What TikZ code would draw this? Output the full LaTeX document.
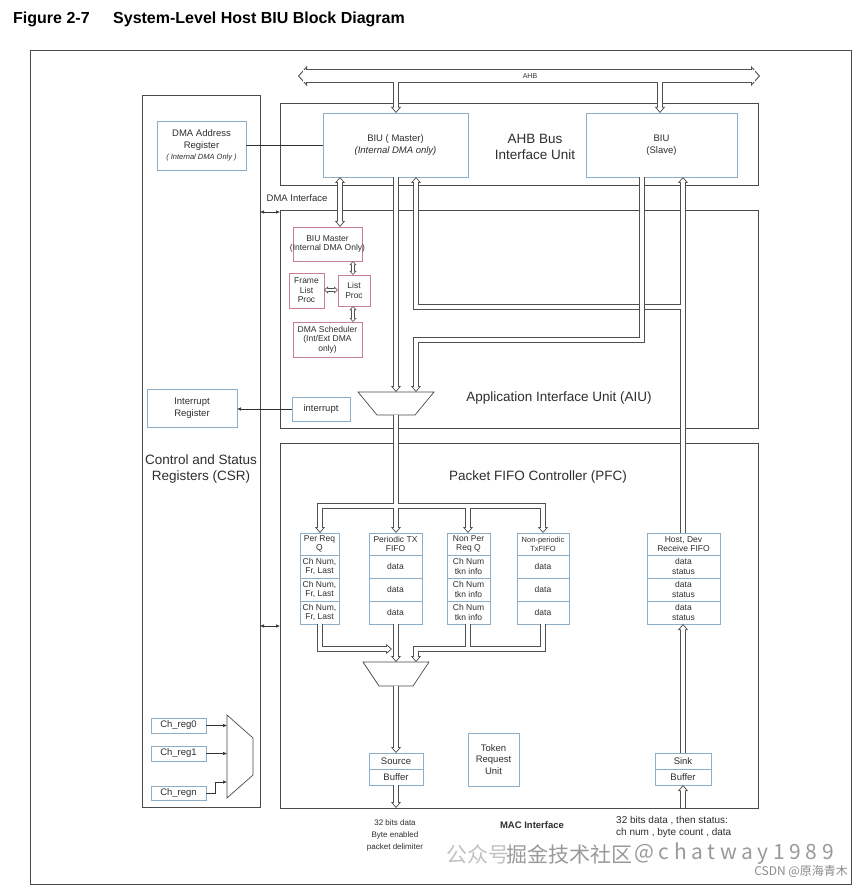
\documentclass[tikz,border=0pt]{standalone}
\usepackage{fontspec}
\setmainfont{Liberation Sans}
\newfontfamily\cjkfont{Noto Sans CJK SC}
\newfontfamily\cjkwide{Noto Sans CJK SC}[LetterSpace=22]
\usetikzlibrary{arrows.meta}
\definecolor{frm}{HTML}{4A4A4A}
\definecolor{blu}{HTML}{8DAEC6}
\definecolor{pnk}{HTML}{C8808E}
\definecolor{txt}{HTML}{2E2E2E}
\definecolor{bcol}{HTML}{505050}
\newcommand\fsT{\fontsize{16}{19}\selectfont\bfseries}
\newcommand\fsL{\fontsize{13.5}{16.5}\selectfont}
\newcommand\fsA{\fontsize{9.5}{11.5}\selectfont}
\newcommand\fsB{\fontsize{8.5}{9.6}\selectfont}
\newcommand\fsC{\fontsize{7.5}{9}\selectfont}
\newcommand\fsD{\fontsize{8}{12}\selectfont}
\newcommand\fsE{\fontsize{10}{12}\selectfont}
\newcommand\boxat[8]{%
 \pgfmathsetmacro\BoxW{#5-#3}%
 \pgfmathsetmacro\BoxH{#6-#4}%
 \pgfmathsetmacro\BoxX{(#3+#5)/2}%
 \pgfmathsetmacro\BoxY{(#4+#6)/2}%
 \node[#1, rectangle, inner sep=0pt, outer sep=0pt, minimum width=\BoxW pt, minimum height=\BoxH pt] (#2) at (\BoxX,\BoxY) {};%
 \node[align=center, inner sep=0pt, font=#7] at (#2.center) {#8};%
}
\tikzset{
 frmbox/.style={draw=frm, line width=0.9pt},
 bbox/.style={draw=blu, line width=0.9pt, fill=white},
 pbox/.style={draw=pnk, line width=0.9pt, fill=white},
 mux/.style={draw=frm, line width=0.7pt, fill=white},
 thin/.style={draw=black!80, line width=0.6pt, -{Latex[length=4pt,width=3.6pt]}},
 thinB/.style={draw=black!80, line width=0.6pt, {Latex[length=4pt,width=3.6pt]}-{Latex[length=4pt,width=3.6pt]}},
 passone/.style={
  bus/.style={draw=bcol,line width=6.2pt,line join=miter},
  wbus/.style={draw=bcol,line width=14pt,line join=miter},
  sbus/.style={draw=bcol,line width=4pt,line join=miter},
  tE/.style={-{Triangle[width=10pt,length=6pt,line width=0.75pt,fill=white]}},
  tB/.style={{Triangle[width=10pt,length=6pt,line width=0.75pt,fill=white]}-{Triangle[width=10pt,length=6pt,line width=0.75pt,fill=white]}},
  wtB/.style={{Triangle[width=20pt,length=9pt,line width=0.9pt,fill=white]}-{Triangle[width=20pt,length=9pt,line width=0.9pt,fill=white]}},
  stB/.style={{Triangle[width=7pt,length=4pt,line width=0.6pt,fill=white]}-{Triangle[width=7pt,length=4pt,line width=0.6pt,fill=white]}}
 },
 passtwo/.style={
  bus/.style={draw=white,line width=4.6pt,line join=miter},
  wbus/.style={draw=white,line width=12pt,line join=miter},
  sbus/.style={draw=white,line width=2.8pt,line join=miter},
  tE/.style={shorten >=3.5pt},
  tB/.style={shorten >=3.5pt,shorten <=3.5pt},
  wtB/.style={shorten >=5pt,shorten <=5pt},
  stB/.style={shorten >=2.4pt,shorten <=2.4pt}
 },
}
\newcommand\ahbpaths{%
 \draw[wbus,wtB] (ahbL) -- (ahbR);
 \draw[bus,tE] (xM |- ahbL) -- (xM |- biuM.north);
 \draw[bus,tE] (xAs |- ahbL) -- (xAs |- biuS.north);
}
\newcommand\mainpaths{%
 \draw[bus,tB] (xD |- biuM.south) -- (xD |- dmaM.north);
 \draw[bus,tE] (xM |- biuM.south) -- (amuxN);
 \draw[bus,tE] (xR |- yW) -- (xW |- yW) -- (xW |- biuM.south);
 \draw[bus,tE] (xR |- rxf.north) -- (xR |- biuS.south);
}
\newcommand\slavepaths{%
 \draw[bus,tE] (xSd |- biuS.south) -- (xSd |- ySd) -- (xW |- ySd) -- (xW |- amuxN);
}
\newcommand\distpaths{%
 \draw[bus,tE] (amuxS) -- (xM |- pfifo.north);
 \draw[bus,tE] (xM |- yDist) -- (xPR |- yDist) -- (xPR |- preq.north);
 \draw[bus,tE] (xM |- yDist) -- (xNT |- yDist) -- (xNT |- nptx.north);
 \draw[bus,tE] (xNP |- yDist) -- (xNP |- npreq.north);
}
\newcommand\mergepaths{%
 \draw[bus,tE] (xM |- pfifo3.south) -- (pmuxN);
 \draw[bus,tE] (xPR |- preq3.south) -- (xPR |- yPR) -- (prEnd);
 \draw[bus,tE] (xNT |- nptx3.south) -- (xNT |- yNP) -- (xW |- yNP) -- (xW |- pmuxN);
 \draw[bus] (xNP |- npreq3.south) -- (xNP |- yNP);
 \draw[bus,tE] (pmuxS) -- (xM |- srcb.north);
 \draw[bus,tE] (xM |- srcb2.south) -- (xM |- pfc.south);
 \draw[bus,tE] (xR |- pfc.south) -- (xR |- sink2.south);
 \draw[bus,tE] (xR |- sink.north) -- (xR |- rxf3.south);
}
\newcommand\dmapaths{%
 \draw[sbus,stB] (xL |- dmaM.south) -- (xL |- lproc.north);
 \draw[sbus,stB] (flp.east |- yF) -- (lproc.west |- yF);
 \draw[sbus,stB] (xL |- lproc.south) -- (xL |- sched.north);
}
\begin{document}
\begin{tikzpicture}[x=1pt,y=-1pt, every node/.style={text=txt}]
\fill[white] (0,0) rectangle (865,890);
\useasboundingbox (0,0) rectangle (865,890);
% title
\node[anchor=west, inner sep=0pt, font=\fsT, text=black] (fignum) at (13,19) {Figure 2-7};
\node[anchor=west, inner sep=0pt, font=\fsT, text=black] (figttl) at (113,19) {System-Level Host BIU Block Diagram};
% coordinates
\coordinate (ahbL) at (298,76); \coordinate (ahbR) at (760,76);
\coordinate (xD) at (340,0); \coordinate (xM) at (396,0); \coordinate (xW) at (416,0);
\coordinate (xSd) at (642,0); \coordinate (xR) at (683,0); \coordinate (xAs) at (660,0);
\coordinate (xPR) at (320,0); \coordinate (xNP) at (468,0); \coordinate (xNT) at (543,0);
\coordinate (xL) at (353,0);
\coordinate (yW) at (0,307); \coordinate (ySd) at (0,340); \coordinate (yDist) at (0,506);
\coordinate (yPR) at (0,649); \coordinate (yNP) at (0,649); \coordinate (yF) at (0,290);
\coordinate (prEnd) at (392,649);
\coordinate (amuxN) at (396,392); \coordinate (amuxS) at (396,415);
\coordinate (pmuxN) at (396,662); \coordinate (pmuxS) at (396,686);
\coordinate (dmaIfY) at (0,212); \coordinate (pfcIfY) at (0,626);
\coordinate (cmuxL) at (227,0); \coordinate (cnY) at (0,782);
% frames
\boxat{frmbox}{outer}{30}{50}{851}{884}{\fsL}{}
\boxat{frmbox}{csr}{142}{95}{260}{807}{\fsL}{}
\boxat{frmbox}{ahbu}{280}{103}{758}{185}{\fsL}{}
\boxat{frmbox}{aiu}{280}{210}{758}{428}{\fsL}{}
\boxat{frmbox}{pfc}{280}{443}{758}{808}{\fsL}{}
\node[font=\fsL, align=center] (ahbuT) at (535,147) {AHB Bus\\Interface Unit};
\node[font=\fsL, align=center] (aiuT) at (559,398) {Application Interface Unit (AIU)};
\node[font=\fsL, align=center] (pfcT) at (538,477) {Packet FIFO Controller (PFC)};
\node[font=\fsL, align=center] (csrT) at (201,469) {Control and Status\\Registers (CSR)};
% blue boxes
\boxat{bbox}{biuM}{323}{113}{468}{177}{\fsA}{BIU ( Master)\\{\itshape (Internal DMA only)}}
\boxat{bbox}{biuS}{586}{113}{737}{177}{\fsA}{BIU\\(Slave)}
\boxat{bbox}{dmaaddr}{157}{121}{246}{170}{\fsA}{DMA Address\\Register\\{\fsC\itshape ( Internal DMA Only )}}
\boxat{bbox}{intreg}{147}{389}{237}{427}{\fsA}{Interrupt\\Register}
\boxat{bbox}{intr}{292}{397}{350}{421}{\fsA}{interrupt}
\boxat{bbox}{chr0}{151}{718}{206}{733}{\fsA}{Ch\_reg0}
\boxat{bbox}{chr1}{151}{746}{206}{761}{\fsA}{Ch\_reg1}
\boxat{bbox}{chrn}{151}{786}{206}{800}{\fsA}{Ch\_regn}
% FIFOs
\boxat{bbox}{preq}{300}{533}{339}{555}{\fsB}{Per Req\\Q}
\boxat{bbox}{preq1}{300}{555}{339}{578}{\fsB}{Ch Num,\\Fr, Last}
\boxat{bbox}{preq2}{300}{578}{339}{601}{\fsB}{Ch Num,\\Fr, Last}
\boxat{bbox}{preq3}{300}{601}{339}{624}{\fsB}{Ch Num,\\Fr, Last}
\boxat{bbox}{pfifo}{369}{533}{422}{555}{\fsB}{Periodic TX\\FIFO}
\boxat{bbox}{pfifo1}{369}{555}{422}{578}{\fsB}{data}
\boxat{bbox}{pfifo2}{369}{578}{422}{601}{\fsB}{data}
\boxat{bbox}{pfifo3}{369}{601}{422}{624}{\fsB}{data}
\boxat{bbox}{npreq}{447}{533}{490}{555}{\fsB}{Non Per\\Req Q}
\boxat{bbox}{npreq1}{447}{555}{490}{578}{\fsB}{Ch Num\\tkn info}
\boxat{bbox}{npreq2}{447}{578}{490}{601}{\fsB}{Ch Num\\tkn info}
\boxat{bbox}{npreq3}{447}{601}{490}{624}{\fsB}{Ch Num\\tkn info}
\boxat{bbox}{nptx}{517}{533}{569}{555}{\fsC}{Non-periodic\\TxFIFO}
\boxat{bbox}{nptx1}{517}{555}{569}{578}{\fsB}{data}
\boxat{bbox}{nptx2}{517}{578}{569}{601}{\fsB}{data}
\boxat{bbox}{nptx3}{517}{601}{569}{624}{\fsB}{data}
\boxat{bbox}{rxf}{647}{533}{720}{555}{\fsB}{Host, Dev\\Receive FIFO}
\boxat{bbox}{rxf1}{647}{555}{720}{578}{\fsB}{data\\status}
\boxat{bbox}{rxf2}{647}{578}{720}{601}{\fsB}{data\\status}
\boxat{bbox}{rxf3}{647}{601}{720}{624}{\fsB}{data\\status}
\boxat{bbox}{srcb}{369}{753}{423}{769}{\fsA}{Source}
\boxat{bbox}{srcb2}{369}{769}{423}{785}{\fsA}{Buffer}
\boxat{bbox}{token}{468}{733}{519}{786}{\fsA}{Token\\Request\\Unit}
\boxat{bbox}{sink}{655}{753}{711}{769}{\fsA}{Sink}
\boxat{bbox}{sink2}{655}{769}{711}{785}{\fsA}{Buffer}
% pink DMA boxes
\boxat{pbox}{dmaM}{293}{227}{362}{261}{\fsB}{BIU Master\\(Internal DMA Only)}
\boxat{pbox}{flp}{289}{273}{324}{308}{\fsB}{Frame\\List\\Proc}
\boxat{pbox}{lproc}{338}{275}{370}{306}{\fsB}{List\\Proc}
\boxat{pbox}{sched}{293}{322}{362}{357}{\fsB}{DMA Scheduler\\(Int/Ext DMA\\only)}
% muxes
\draw[mux] (358,392) -- (434,392) -- (415,415) -- (377,415) -- cycle;
\draw[mux] (363,662) -- (429,662) -- (413,686) -- (379,686) -- cycle;
\draw[mux] (227,715) -- (253,738) -- (253,775) -- (227,798) -- cycle;
% buses
\begin{scope}[passone]\ahbpaths\end{scope}
\begin{scope}[passtwo]\ahbpaths\end{scope}
\node[font=\fontsize{7}{8}\selectfont, inner sep=0pt] (ahbT) at (530,76) {AHB};
\begin{scope}[passone]\mainpaths\end{scope}
\begin{scope}[passtwo]\mainpaths\end{scope}
\begin{scope}[passone]\slavepaths\end{scope}
\begin{scope}[passtwo]\slavepaths\end{scope}
\begin{scope}[passone]\distpaths\end{scope}
\begin{scope}[passtwo]\distpaths\end{scope}
\begin{scope}[passone]\mergepaths\end{scope}
\begin{scope}[passtwo]\mergepaths\end{scope}
\begin{scope}[passone]\dmapaths\end{scope}
\begin{scope}[passtwo]\dmapaths\end{scope}
% thin connectors
\draw[draw=black!80, line width=0.6pt] (dmaaddr.east) -- (biuM.west |- dmaaddr.east);
\draw[thin] (intr.west) -- (intreg.east |- intr.west);
\draw[thinB] (csr.east |- dmaIfY) -- (aiu.west |- dmaIfY);
\draw[thinB] (csr.east |- pfcIfY) -- (pfc.west |- pfcIfY);
\draw[thin] (chr0.east) -- (cmuxL |- chr0.east);
\draw[thin] (chr1.east) -- (cmuxL |- chr1.east);
\draw[thin] (chrn.east) -- ++(9,0) |- (cmuxL |- cnY);
\node[font=\fsA, inner sep=0pt] (dmaifT) at (297,198) {DMA Interface};
% bottom notes
\node[font=\fsD, align=center, inner sep=0pt] (srcN) at (395,835) {32 bits data\\Byte enabled\\packet delimiter};
\node[font=\fontsize{9.5}{11}\selectfont\bfseries, inner sep=0pt] (macT) at (532,825) {MAC Interface};
\node[font=\fsE, align=left, anchor=north west, inner sep=0pt] (sinkN) at (616,816) {32 bits data , then status:\\ch num , byte count , data};
% watermark
\node[anchor=west, inner sep=0pt, font=\cjkfont\fontsize{21}{21}\selectfont, text=black!30, text opacity=0.8] (wm1) at (446,854) {公众号};
\node[anchor=west, inner sep=0pt, font=\cjkfont\fontsize{21}{21}\selectfont, text=black!50, text opacity=0.8] (wm2) at (506,854) {掘金技术社区};
\node[anchor=west, inner sep=0pt, font=\cjkwide\fontsize{21}{21}\selectfont, text=black!50, text opacity=0.8] (wm2b) at (634,854) {@chatway1989};
\node[anchor=east, inner sep=0pt, font=\cjkfont\fontsize{12}{12}\selectfont, text=black!45] (wm3) at (848,871) {CSDN @原海青木};
\end{tikzpicture}
\end{document}
